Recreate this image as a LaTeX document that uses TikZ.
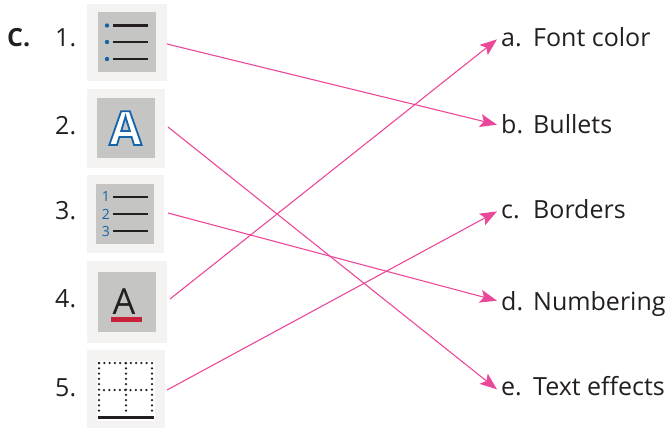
\documentclass[tikz,border=0pt]{standalone}
\usepackage{fontspec}
\setmainfont{Open Sans}
\usetikzlibrary{arrows.meta}
\definecolor{mytext}{RGB}{35,31,32}
\definecolor{mypink}{RGB}{236,72,153}
\definecolor{myframe}{RGB}{244,243,241}
\definecolor{mygrey}{RGB}{197,197,195}
\definecolor{myblue}{RGB}{20,100,170}
\definecolor{myred}{RGB}{200,32,56}
\newcommand\iconbox[6]{
  \node[frame, minimum width=#3, minimum height=#4, anchor=north west] (#2) at #1 {};
  \node[#5, minimum width=58, minimum height=60, anchor=north west] (#2in) at #6 {};
}
\newcommand\outlined[1]{%
  \special{pdf:code q 2 Tr 1.8 w 0.08 0.39 0.67 RG 1 1 1 rg}#1\special{pdf:code Q}}

\begin{document}
\begin{tikzpicture}[
    x=1pt,y=-1pt,
    frame/.style={fill=myframe,inner sep=0pt,outer sep=0pt},
    tile/.style={fill=mygrey,inner sep=0pt,outer sep=0pt},
    blank/.style={fill=white,inner sep=0pt,outer sep=0pt},
    lbl/.style={font=\fontsize{25}{25}\selectfont,text=mytext,anchor=base west,inner sep=0pt},
    opt/.style={lbl,inner sep=4pt},
    link/.style={mypink,line width=1.1pt,-{Stealth[length=17pt,width=13pt,inset=3.5pt]}},
    bar/.style={mytext,line width=2.6pt},
    dotline/.style={mytext,line width=2.5pt,line cap=round,dash pattern=on 0pt off 5.3pt},]

    \useasboundingbox (0,0) rectangle (668,428);

    \iconbox{(87,4)}{iconA}{80}{77}{tile}{(98,12)}
    \iconbox{(87,89)}{iconB}{78}{79}{tile}{(97,98)}
    \iconbox{(87,175)}{iconC}{77}{78}{tile}{(96,184)}
    \iconbox{(87,261)}{iconD}{80}{82}{tile}{(98,272)}
    \iconbox{(87,350)}{iconE}{78}{78}{blank}{(97,361)}

    \node[lbl,font=\fontsize{25}{25}\selectfont\bfseries] (head) at (7,46) {C.};
    \node[lbl] (numA) at (55,46) {1.};
    \node[lbl] (numB) at (55,134) {2.};
    \node[lbl] (numC) at (55,219) {3.};
    \node[lbl] (numD) at (55,307) {4.};
    \node[lbl] (numE) at (55,396) {5.};

    \node[opt] (optA) at (497,46) {a.};
    \node[opt] (optB) at (497,133) {b.};
    \node[opt] (optC) at (497,218) {c.};
    \node[opt] (optD) at (497,310) {d.};
    \node[opt] (optE) at (497,395) {e.};
    \node[lbl] (txtA) at (533,46) {Font color};
    \node[lbl] (txtB) at (533,133) {Bullets};
    \node[lbl] (txtC) at (533,218) {Borders};
    \node[lbl] (txtD) at (533,310) {Numbering};
    \node[lbl] (txtE) at (533,395) {Text effects};

    % bullets
    \foreach \y in {25.5,42,59}{
      \fill[myblue] (107,\y) circle (2.2);
      \draw[bar] (113,\y) -- (148,\y);
    }
    % outlined letter
    \node[font=\fontsize{47}{47}\selectfont\bfseries,inner sep=0pt,anchor=base] (letterB) at (125.5,145) {\outlined{A}};
    % numbers
    \foreach \y/\n in {197/1,214/2,231/3}{
      \node[font=\fontsize{14}{14}\selectfont,text=myblue,inner sep=0pt] (no\n) at (106,\y) {\n};
      \draw[bar] (113,\y) -- (148,\y);
    }
    % font colour
    \node[lbl,font=\fontsize{36}{36}\selectfont] (letterD) at (112.5,314) {A};
    \fill[myred] (111,317) rectangle (142,322);
    % borders
    \draw[dotline] (99,363) -- (152,363) -- (152,413);
    \draw[dotline] (99,363) -- (99,413);
    \draw[dotline] (126,363) -- (126,413);
    \draw[dotline] (104,390) -- (148,390);
    \draw[mytext,line width=3pt] (98,417) -- (154,417);

    \draw[link] ([shift={(0,1.5)}]iconA.east) -- ([shift={(0,1)}]optB.west);
    \draw[link] ([shift={(3,-1.5)}]iconB.east) -- ([shift={(0,1)}]optE.west);
    \draw[link] ([shift={(4,-1)}]iconC.east) -- (optD.west);
    \draw[link] ([shift={(3,-3)}]iconD.east) -- (optA.west);
    \draw[link] ([shift={(2,1)}]iconE.east) -- (optC.west);
\end{tikzpicture}
\end{document}
